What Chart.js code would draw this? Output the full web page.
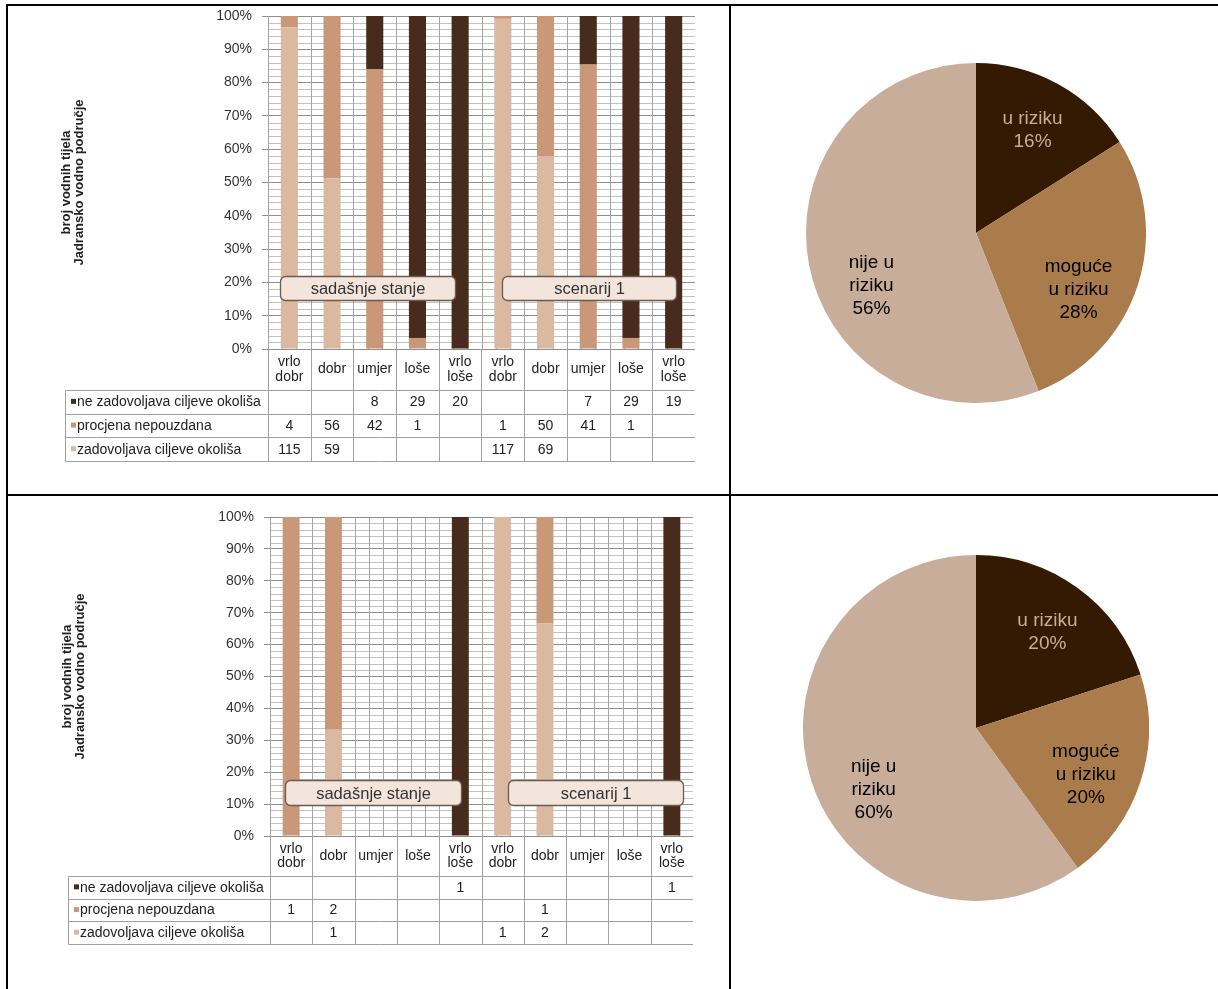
<!DOCTYPE html>
<html><head><meta charset="utf-8">
<script src="https://cdn.jsdelivr.net/npm/chart.js@4.4.1/dist/chart.umd.min.js"></script>
<style>
html,body{margin:0;padding:0;background:#fff;}
body{width:1218px;height:989px;position:relative;overflow:hidden;font-family:"Liberation Sans",Arial,sans-serif;}
.ln{position:absolute;background:#000;}
canvas{position:absolute;}
</style></head><body>
<div class="ln" style="left:6px;top:4px;width:1212px;height:2px"></div>
<div class="ln" style="left:6px;top:4px;width:2px;height:985px"></div>
<div class="ln" style="left:729px;top:4px;width:2px;height:985px"></div>
<div class="ln" style="left:6px;top:494px;width:1212px;height:2px"></div>
<canvas id="barTop" width="719" height="496" style="left:9px;top:-3px"></canvas>
<canvas id="barBottom" width="719" height="492" style="left:9px;top:497px"></canvas>
<canvas id="pieTop" width="340" height="340" style="left:806px;top:63px"></canvas>
<canvas id="pieBottom" width="346" height="346" style="left:803px;top:555px"></canvas>
<script>
const FONT = '"Liberation Sans", Arial, sans-serif';

// ---- data ----
const categories = [['vrlo','dobr'],'dobr','umjer','loše',['vrlo','loše'],['vrlo','dobr'],'dobr','umjer','loše',['vrlo','loše']];
const seriesNames = ['ne zadovoljava ciljeve okoliša','procjena nepouzdana','zadovoljava ciljeve okoliša'];
const groupNames = ['sadašnje stanje','scenarij 1'];
const yAxisTitle = ['broj vodnih tijela','Jadransko vodno područje'];

const topNe          = [null,null,8,29,20,null,null,7,29,19];
const topProcjena    = [4,56,42,1,null,1,50,41,1,null];
const topZadovoljava = [115,59,null,null,null,117,69,null,null,null];

const bottomNe          = [null,null,null,null,1,null,null,null,null,1];
const bottomProcjena    = [1,2,null,null,null,null,1,null,null,null];
const bottomZadovoljava = [null,1,null,null,null,1,2,null,null,null];

const pieCategories = [['u riziku'],['moguće','u riziku'],['nije u','riziku']];
const pieTopValues = [16,28,56];
const pieBottomValues = [20,20,60];

// ---- styles ----
const C_NE = '#482b1d', C_PROC = '#c99879', C_ZAD = '#dab9a0';
const PIE_COLORS = ['#341a03','#ab7c4b','#c8ad9b'];
const PIE_TEXT = ['#c8ad9b','#000','#000'];

function pct(arr, totals){ return arr.map((v,i)=> v==null ? null : v/totals[i]*100); }

function vGridPlugin(minorStep){
  return { id:'vGrid', beforeDatasetsDraw(chart){
    const {ctx, chartArea:ca, scales:{x,y}} = chart;
    const n = chart.data.labels.length;
    const w = x.getPixelForValue(1) - x.getPixelForValue(0);
    ctx.save(); ctx.lineWidth = 1;
    ctx.strokeStyle = '#c2c2c2';
    for (let v = minorStep; v < 100; v += minorStep) {
      if (v % 10 === 0) continue;
      const py = Math.round(y.getPixelForValue(v)) + 0.5;
      ctx.beginPath(); ctx.moveTo(ca.left, py); ctx.lineTo(ca.right, py); ctx.stroke();
    }
    ctx.strokeStyle = '#a3a3a3';
    for (let i = 0; i < n; i++) for (let k = 0; k < 3; k++) {
      const px = Math.round(x.getPixelForValue(i) - w/2 + k*w/3) + 0.5;
      ctx.beginPath(); ctx.moveTo(px, ca.top); ctx.lineTo(px, ca.bottom); ctx.stroke();
    }
    ctx.restore();
  }};
}

function tablePlugin(rows, o){
  return { id:'dataTable', afterDraw(chart){
    const {ctx, chartArea:ca, scales:{x}} = chart;
    const n = chart.data.labels.length;
    const w = x.getPixelForValue(1) - x.getPixelForValue(0);
    const left0 = x.getPixelForValue(0) - w/2;
    const right = x.getPixelForValue(n-1) + w/2;
    const hb = ca.bottom + o.headerH;
    const bottom = hb + rows.length*o.rowH;
    ctx.save();
    ctx.strokeStyle = '#a0a0a0'; ctx.lineWidth = 1;
    const L = (x1,y1,x2,y2)=>{ctx.beginPath();ctx.moveTo(x1,y1);ctx.lineTo(x2,y2);ctx.stroke();};
    for (let i=0;i<n;i++){ const px=Math.round(left0+i*w)+0.5; L(px, ca.bottom, px, bottom); }
    const tl = Math.round(o.left)+0.5;
    L(tl, Math.round(hb)+0.5, tl, Math.round(bottom)+0.5);
    for (let r=0;r<=rows.length;r++){ const py=Math.round(hb+r*o.rowH)+0.5; L(tl, py, right, py); }
    ctx.font = `14px ${FONT}`; ctx.textBaseline = 'middle';
    rows.forEach((row,r)=>{
      const cy = hb + (r+0.5)*o.rowH;
      ctx.fillStyle = row.color; ctx.fillRect(o.left+6, cy-3, 5, 5);
      ctx.fillStyle = '#222'; ctx.textAlign = 'left';
      ctx.fillText(row.name, o.left+12, cy+0.5);
      ctx.textAlign = 'center';
      row.values.forEach((v,i)=>{ if (v!=null) ctx.fillText(String(v), x.getPixelForValue(i), cy+0.5); });
    });
    ctx.restore();
  }};
}

function groupPlugin(spans, yRange){
  return { id:'groups', afterDatasetsDraw(chart){
    const {ctx, scales:{x,y}} = chart;
    const c0 = x.getPixelForValue(0), w = x.getPixelForValue(1) - c0;
    const top = Math.round(y.getPixelForValue(yRange[0]))+0.5, bot = Math.round(y.getPixelForValue(yRange[1]))+0.5;
    ctx.save();
    groupNames.forEach((name,g)=>{
      const x1 = Math.round(c0 + spans[g][0]*w)+0.5, x2 = Math.round(c0 + spans[g][1]*w)+0.5;
      const r = 5;
      ctx.beginPath();
      ctx.moveTo(x1+r, top); ctx.lineTo(x2-r, top); ctx.arcTo(x2, top, x2, top+r, r);
      ctx.lineTo(x2, bot-r); ctx.arcTo(x2, bot, x2-r, bot, r);
      ctx.lineTo(x1+r, bot); ctx.arcTo(x1, bot, x1, bot-r, r);
      ctx.lineTo(x1, top+r); ctx.arcTo(x1, top, x1+r, top, r); ctx.closePath();
      ctx.fillStyle = '#f3e5dc'; ctx.fill();
      ctx.lineWidth = 1.3; ctx.strokeStyle = '#6a5a50'; ctx.stroke();
      ctx.fillStyle = '#333'; ctx.font = `16.5px ${FONT}`;
      ctx.textAlign = 'center'; ctx.textBaseline = 'middle';
      ctx.fillText(name, (x1+x2)/2, (top+bot)/2 + 1);
    });
    ctx.restore();
  }};
}

function makeBar(id, ne, proc, zad, cfg){
  const totals = categories.map((_,i)=> (ne[i]||0)+(proc[i]||0)+(zad[i]||0));
  const rows = [
    {name: seriesNames[0], color: C_NE, values: ne},
    {name: seriesNames[1], color: C_PROC, values: proc},
    {name: seriesNames[2], color: C_ZAD, values: zad}
  ];
  return new Chart(document.getElementById(id), {
    type: 'bar',
    data: {
      labels: categories,
      datasets: [
        {label: seriesNames[2], data: pct(zad, totals), backgroundColor: C_ZAD},
        {label: seriesNames[1], data: pct(proc, totals), backgroundColor: C_PROC},
        {label: seriesNames[0], data: pct(ne, totals), backgroundColor: C_NE}
      ]
    },
    options: {
      responsive: false, animation: false, events: [],
      layout: {padding: cfg.padding},
      datasets: {bar: {categoryPercentage: 0.8, barPercentage: 0.5, borderWidth: 0}},
      plugins: {legend: {display: false}, tooltip: {enabled: false}},
      scales: {
        x: {
          stacked: true,
          grid: {display: false, drawTicks: false},
          border: {display: false},
          ticks: {autoSkip: false, maxRotation: 0, minRotation: 0, crossAlign: 'center', padding: cfg.xPad,
                  color: '#222', font: {family: FONT, size: 14, lineHeight: 1.03}},
          afterFit: s => { s.height = cfg.xHeight; }
        },
        y: {
          stacked: true, min: 0, max: 100,
          ticks: {stepSize: 10, padding: 10, color: '#333', font: {family: FONT, size: 14},
                  callback: v => v + '%'},
          grid: {color: '#8f8f8f', tickLength: 6, tickColor: '#8f8f8f'},
          border: {display: true, color: '#8f8f8f'},
          title: {display: true, text: yAxisTitle, color: '#222',
                  font: {family: FONT, size: 13, weight: 'bold', lineHeight: 1.0},
                  padding: {top: cfg.titlePad, bottom: 0}},
          afterFit: s => { s.width = cfg.yWidth; }
        }
      }
    },
    plugins: [vGridPlugin(2), groupPlugin(cfg.spans, cfg.boxY), tablePlugin(rows, cfg.table)]
  });
}

makeBar('barTop', topNe, topProcjena, topZadovoljava, {
  padding: {left: 0, top: 19, right: 33, bottom: 32},
  xHeight: 112, yWidth: 259, titlePad: 50.5, xPad: 13.3,
  spans: [[-0.22, 3.88],[4.98, 9.05]], boxY: [21.9, 14.7],
  table: {headerH: 41, rowH: 23.7, left: 56}
});
makeBar('barBottom', bottomNe, bottomProcjena, bottomZadovoljava, {
  padding: {left: 0, top: 20, right: 35, bottom: 45},
  xHeight: 108, yWidth: 261, titlePad: 51.5, xPad: 12.8,
  spans: [[-0.15, 4.02],[5.12, 9.26]], boxY: [17.6, 9.7],
  table: {headerH: 40, rowH: 22.7, left: 59}
});

function pieLabelPlugin(values, angleFrac, radiusFrac){
  return { id:'pieLabels', afterDatasetsDraw(chart){
    const {ctx} = chart;
    const meta = chart.getDatasetMeta(0);
    ctx.save();
    ctx.font = `19px ${FONT}`; ctx.textAlign = 'center'; ctx.textBaseline = 'middle';
    meta.data.forEach((arc,i)=>{
      const a = arc.startAngle + (arc.endAngle - arc.startAngle)*angleFrac[i];
      const r = arc.outerRadius*radiusFrac;
      const lx = arc.x + Math.cos(a)*r, ly = arc.y + Math.sin(a)*r;
      const lines = [...pieCategories[i], values[i] + '%'];
      const lh = 23;
      ctx.fillStyle = PIE_TEXT[i];
      lines.forEach((t,k)=> ctx.fillText(t, lx, ly - (lines.length-1)*lh/2 + k*lh));
    });
    ctx.restore();
  }};
}

function makePie(id, values, angleFrac, radiusFrac){
  return new Chart(document.getElementById(id), {
    type: 'pie',
    data: {labels: pieCategories.map(l=>l.join(' ')),
           datasets: [{data: values, backgroundColor: PIE_COLORS, borderWidth: 0}]},
    options: {responsive: false, animation: false, events: [],
              layout: {padding: 0},
              plugins: {legend: {display: false}, tooltip: {enabled: false}}},
    plugins: [pieLabelPlugin(values, angleFrac, radiusFrac)]
  });
}
makePie('pieTop', pieTopValues, [0.5, 0.61, 0.42], 0.69);
makePie('pieBottom', pieBottomValues, [0.51, 0.57, 0.44], 0.69);
</script>
</body></html>
